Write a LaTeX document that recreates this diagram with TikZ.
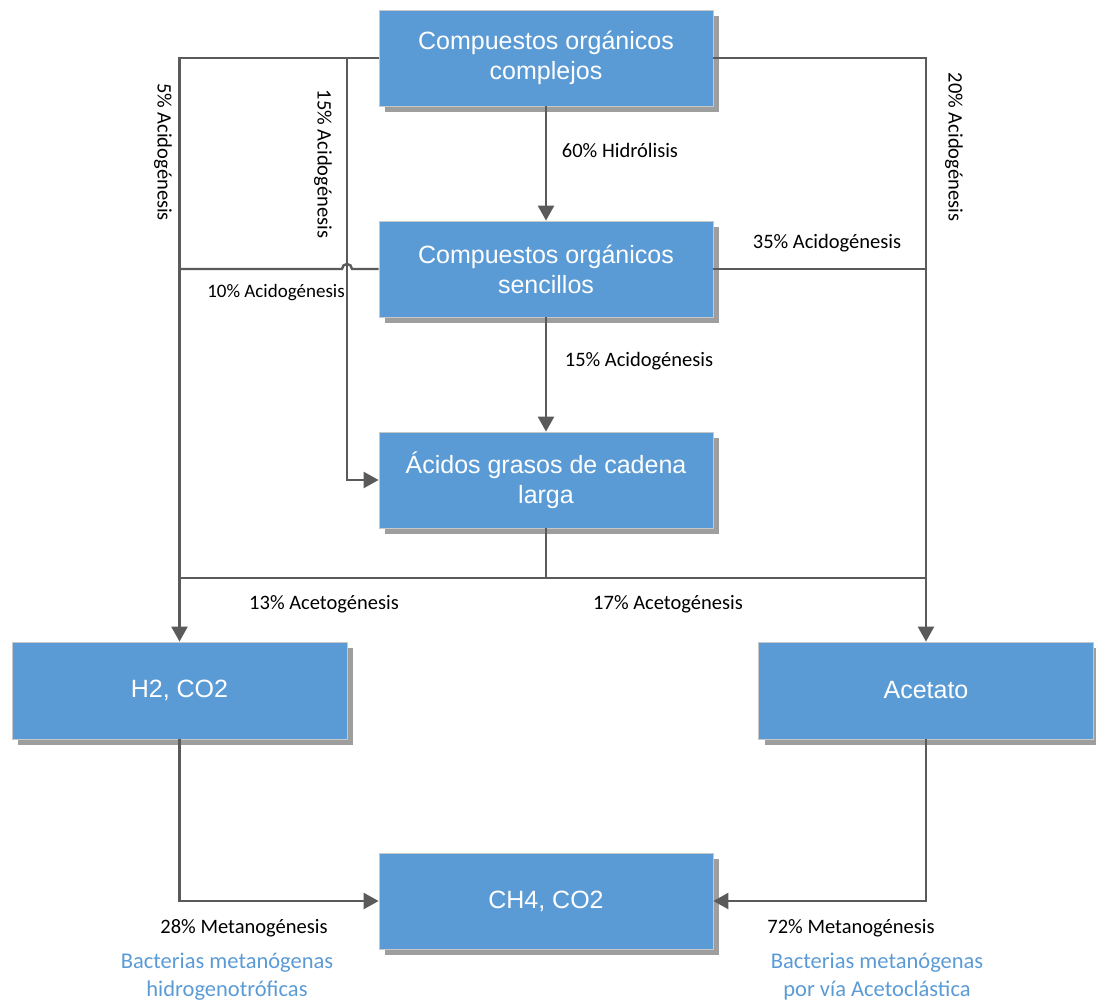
\documentclass[tikz,border=0pt]{standalone}
\usepackage{fontspec}
\setmainfont{Carlito}
\newfontfamily\boxfont{Liberation Sans}
\usetikzlibrary{arrows.meta,shadows}
\definecolor{boxblue}{HTML}{5B9BD5}
\definecolor{linegray}{HTML}{5A5A5A}
\definecolor{boxedge}{HTML}{C8C8C8}
\begin{document}
\begin{tikzpicture}[x=1pt,y=-1pt,
  procbox/.style={draw=boxedge,line width=0.8pt,fill=boxblue,minimum width=334pt,minimum height=96pt,
    inner sep=0pt,text=white,align=center,font=\boxfont\fontsize{25}{30}\selectfont,
    drop shadow={shadow xshift=6pt,shadow yshift=-6pt,fill=black!38,opacity=1}},
  lbl/.style={inner sep=0pt,font=\fontsize{20.5}{24}\selectfont,text=black},
  bluelbl/.style={inner sep=0pt,align=center,font=\fontsize{22.5}{28}\selectfont,text=boxblue},
  plain/.style={draw=linegray,line width=2.4pt},
  conn/.style={plain,-{Triangle[width=16pt,length=15pt]}}]
\useasboundingbox (0,0) rectangle (1096,1004);

% boxes
\node[procbox] (top) at (546,58) {Compuestos orgánicos\\complejos};
\node[procbox] (sim) at (546,269) {Compuestos orgánicos\\sencillos};
\node[procbox] (acg) at (546,480) {Ácidos grasos de cadena\\larga};
\node[procbox,minimum width=335pt,minimum height=97pt] (hco) at (179.5,690.5) {H2, CO2};
\node[procbox,minimum width=335pt,minimum height=97pt] (ace) at (926,690.5) {Acetato};
\node[procbox] (ch4) at (546,901) {CH4, CO2};

% junction coordinates
\coordinate (j15) at (347,58);
\coordinate (jb) at (546,578);
\coordinate (hopR) at (352,269);
\coordinate (hopL) at (342,269);

% connectors
\draw[conn] (top.west) -| (hco.north);
\draw[conn] (j15) |- (acg.west);
\draw[conn] (top.east) -| (ace.north);
\draw[conn] (top.south) -- (sim.north);
\draw[plain] (sim.west) -- (hopR) arc[start angle=0,end angle=180,radius=5pt] -- (hco.north |- sim.west);
\draw[plain] (sim.east) -- (ace.north |- sim.east);
\draw[conn] (sim.south) -- (acg.north);
\draw[plain] (acg.south) -- (jb);
\draw[plain] (jb) -- (hco.north |- jb);
\draw[plain] (jb) -- (ace.north |- jb);
\draw[conn] (hco.south) |- (ch4.west);
\draw[conn] (ace.south) |- (ch4.east);

% labels
\node[lbl,rotate=-90] (l5) at (163,152) {5\% Acidogénesis};
\node[lbl,rotate=-90] (l15a) at (323,164) {15\% Acidogénesis};
\node[lbl,rotate=-90] (l20) at (954,147) {20\% Acidogénesis};
\node[lbl] (l60) at (620,150) {60\% Hidrólisis};
\node[lbl,font=\fontsize{19}{22}\selectfont] (l10) at (276,293) {10\% Acidogénesis};
\node[lbl] (l35) at (827,243) {35\% Acidogénesis};
\node[lbl] (l15b) at (639,361) {15\% Acidogénesis};
\node[lbl] (l13) at (324,604) {13\% Acetogénesis};
\node[lbl] (l17) at (668,604) {17\% Acetogénesis};
\node[lbl] (l28) at (244,928) {28\% Metanogénesis};
\node[lbl] (l72) at (851,928) {72\% Metanogénesis};
\node[bluelbl] (b1) at (227,977) {Bacterias metanógenas\\hidrogenotróficas};
\node[bluelbl] (b2) at (877,977) {Bacterias metanógenas\\por vía Acetoclástica};
\end{tikzpicture}
\end{document}
